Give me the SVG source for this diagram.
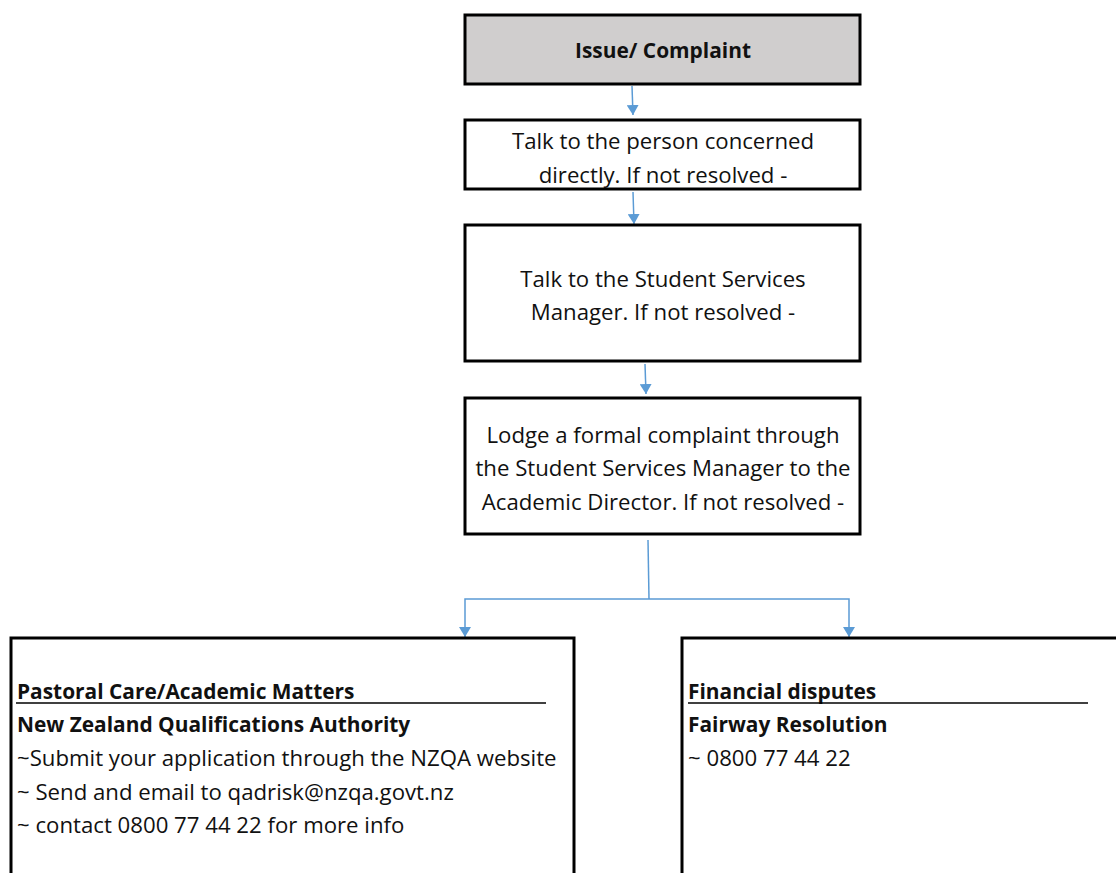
<svg xmlns="http://www.w3.org/2000/svg" width="1116" height="873" viewBox="0 0 1116 873">
<style>
.box{fill:#fff;stroke:#000;stroke-width:3}
.gray{fill:#d0cece}
.t{font-family:"Open Sans","Liberation Sans",sans-serif;font-size:22.2px;fill:#111}
.c{text-anchor:middle}
.b{font-weight:bold;font-size:20.9px}
.con{stroke:#5b9bd5;stroke-width:1.5;fill:none}
.ul{stroke:#000;stroke-width:1.3}
</style>
<defs>
<marker id="ah" viewBox="0 0 10 12" refX="10" refY="6" markerWidth="10" markerHeight="12" markerUnits="userSpaceOnUse" orient="auto">
<path d="M0,0 L10,6 L0,12 z" fill="#5b9bd5"/>
</marker>
</defs>
<rect width="1116" height="873" fill="#fff"/>
<g id="connectors">
<line class="con" x1="632" y1="86" x2="633" y2="115" marker-end="url(#ah)"/>
<line class="con" x1="633" y1="192" x2="634" y2="224" marker-end="url(#ah)"/>
<line class="con" x1="645" y1="364" x2="646" y2="394" marker-end="url(#ah)"/>
<polyline class="con" points="648,540 649,599"/>
<polyline class="con" points="649,599 465,599 465,637" marker-end="url(#ah)"/>
<polyline class="con" points="649,599 849,599 849,637" marker-end="url(#ah)"/>
</g>
<g id="n1">
<rect class="box gray" x="465" y="15" width="395" height="69"/>
<text class="t c b" x="663" y="58">Issue/ Complaint</text>
</g>
<g id="n2">
<rect class="box" x="465" y="120" width="395" height="69"/>
<text class="t c" x="663" y="149">Talk to the person concerned</text>
<text class="t c" x="663" y="183">directly. If not resolved -</text>
</g>
<g id="n3">
<rect class="box" x="465" y="225" width="395" height="136"/>
<text class="t c" x="663" y="287">Talk to the Student Services</text>
<text class="t c" x="663" y="320">Manager. If not resolved -</text>
</g>
<g id="n4">
<rect class="box" x="465" y="398" width="395" height="136"/>
<text class="t c" x="663" y="443">Lodge a formal complaint through</text>
<text class="t c" x="663" y="476">the Student Services Manager to the</text>
<text class="t c" x="663" y="510">Academic Director. If not resolved -</text>
</g>
<g id="n5">
<rect class="box" x="11" y="638" width="563" height="250"/>
<text class="t b" x="17" y="699">Pastoral Care/Academic Matters</text>
<line class="ul" x1="16" y1="703" x2="546" y2="703"/>
<text class="t b" x="17" y="732">New Zealand Qualifications Authority</text>
<text class="t" x="17" y="766">~Submit your application through the NZQA website</text>
<text class="t" x="17" y="800">~ Send and email to qadrisk@nzqa.govt.nz</text>
<text class="t" x="17" y="833">~ contact 0800 77 44 22 for more info</text>
</g>
<g id="n6">
<rect class="box" x="682" y="638" width="450" height="250"/>
<text class="t b" x="688" y="699">Financial disputes</text>
<line class="ul" x1="688" y1="703" x2="1088" y2="703"/>
<text class="t b" x="688" y="732">Fairway Resolution</text>
<text class="t" x="688" y="766">~ 0800 77 44 22</text>
</g>
</svg>
